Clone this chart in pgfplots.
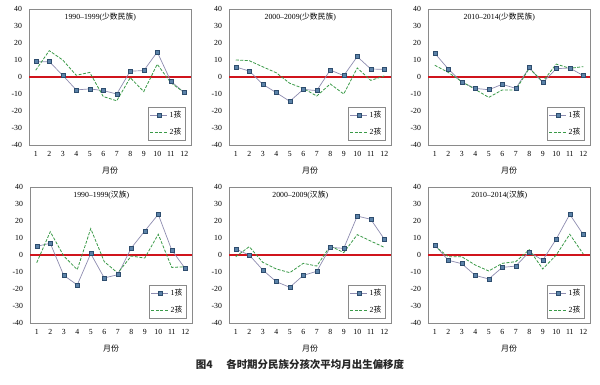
\documentclass[border=0pt]{standalone}
\usepackage{fontspec}
\setmainfont{Liberation Serif}
\newfontfamily\cjk{Noto Sans CJK SC}
\usepackage{pgfplots}
\pgfplotsset{compat=1.18}
\definecolor{oneline}{HTML}{8E8CB0}
\definecolor{onemark}{HTML}{5B82A8}
\definecolor{onedraw}{HTML}{2E4D6E}
\definecolor{twoline}{HTML}{3A9A48}
\definecolor{zeroline}{HTML}{D0141C}
\definecolor{framec}{HTML}{8A8A8A}
\pgfplotsset{panel/.style={
  scale only axis, width=162bp, height=136bp,
  xmin=0.5, xmax=12.5, ymin=-40, ymax=40,
  xtick={1,...,12}, ytick={-40,-30,...,40},
  major tick length=0pt,
  axis line style={draw=framec, line width=0.8bp},
  tick label style={font=\fontsize{7.8}{9}\selectfont},
  /pgf/number format/assume math mode=true,
  xticklabel style={yshift=-2.5bp},
  yticklabel style={xshift=-3.5bp},
  xlabel={\cjk 月份},
  xlabel style={font=\fontsize{8}{9}\selectfont, at={(axis description cs:0.5,0)}, anchor=center, yshift=-25bp},
  legend style={at={(axis description cs:0.963,0.037)}, anchor=south east, draw=framec,
    font=\fontsize{7.8}{9}\selectfont, row sep=5bp, inner sep=1.5bp, cells={anchor=west}},
}}
\newcommand\panel[5]{%
\begin{axis}[panel, at={(#1bp,#2bp)}, anchor=north west]
\addplot[zeroline, line width=1.6bp, forget plot] coordinates {(0.5,0) (12.5,0)};
\addplot[oneline, line width=0.7bp, mark=square*, mark size=2bp, mark options={fill=onemark, draw=onedraw, line width=0.5bp}] coordinates {#4};
\addplot[twoline, dash pattern=on 3bp off 1.5bp, line width=0.8bp] coordinates {#5};
\legend{1{\cjk 孩}, 2{\cjk 孩}}
\node[font=\fontsize{7.8}{9}\selectfont] at (axis description cs:0.44,0.94) {#3};
\end{axis}}
\begin{document}
\begin{tikzpicture}
\path[use as bounding box] (0,0) rectangle (600bp,-385bp);
\panel{29}{-9}{1990--1999({\cjk 少数民族})}
{(1,9) (2,9) (3,1) (4,-7.6) (5,-7) (6,-8) (7,-10) (8,3.5) (9,3.7) (10,14.7) (11,-2.4) (12,-9.2)}
{(1,4) (2,15.5) (3,10) (4,1) (5,2.7) (6,-11.5) (7,-14) (8,-0.4) (9,-8.6) (10,7.5) (11,-3.3) (12,-9.2)}
\panel{229}{-9}{2000--2009({\cjk 少数民族})}
{(1,5.9) (2,3.5) (3,-4.3) (4,-9.2) (5,-14.3) (6,-7.3) (7,-8) (8,4.1) (9,0.8) (10,12) (11,4.7) (12,4.5)}
{(1,10) (2,9.6) (3,6) (4,2.5) (5,-3.7) (6,-6.7) (7,-11.2) (8,-4.1) (9,-10) (10,5.3) (11,-2) (12,0.6)}
\panel{428}{-9}{2010--2014({\cjk 少数民族})}
{(1,14) (2,4.7) (3,-3.1) (4,-6.7) (5,-7.5) (6,-4.3) (7,-6.7) (8,5.5) (9,-3.3) (10,4.9) (11,5.3) (12,0.8)}
{(1,6.9) (2,2.7) (3,-2.7) (4,-7.3) (5,-12) (6,-7.6) (7,-7.6) (8,5.1) (9,-2.7) (10,7.6) (11,5.1) (12,6.1)}
\panel{30}{-187}{1990--1999({\cjk 汉族})}
{(1,5.1) (2,6.9) (3,-12) (4,-17.6) (5,0.8) (6,-13.5) (7,-11.6) (8,4.1) (9,14.1) (10,23.9) (11,2.9) (12,-8)}
{(1,-4.5) (2,13.7) (3,-0.6) (4,-8.6) (5,15.5) (6,-3.9) (7,-10.6) (8,-0.6) (9,-1.8) (10,12.2) (11,-7.3) (12,-6.9)}
\panel{229}{-187}{2000--2009({\cjk 汉族})}
{(1,3.5) (2,0) (3,-8.8) (4,-15.7) (5,-19) (6,-12) (7,-9.6) (8,4.5) (9,3.9) (10,22.9) (11,21) (12,9.4)}
{(1,-1) (2,4.9) (3,-4.3) (4,-8.2) (5,-10.4) (6,-4.9) (7,-6.5) (8,5.3) (9,1.4) (10,12) (11,8.2) (12,4.5)}
\panel{428}{-187}{2010--2014({\cjk 汉族})}
{(1,5.9) (2,-3.1) (3,-5.1) (4,-12) (5,-14.1) (6,-7.3) (7,-6.5) (8,1.8) (9,-3.1) (10,9.4) (11,23.9) (12,12)}
{(1,5.3) (2,-1) (3,-1) (4,-5.9) (5,-9.4) (6,-4.9) (7,-3.9) (8,3.1) (9,-8.2) (10,0) (11,12.2) (12,0.6)}
\node[font=\cjk\bfseries\fontsize{10.5}{12}\selectfont, text=black!85] at (300bp,-365bp) {图4\hspace{1.3em}各时期分民族分孩次平均月出生偏移度};
\end{tikzpicture}
\end{document}
